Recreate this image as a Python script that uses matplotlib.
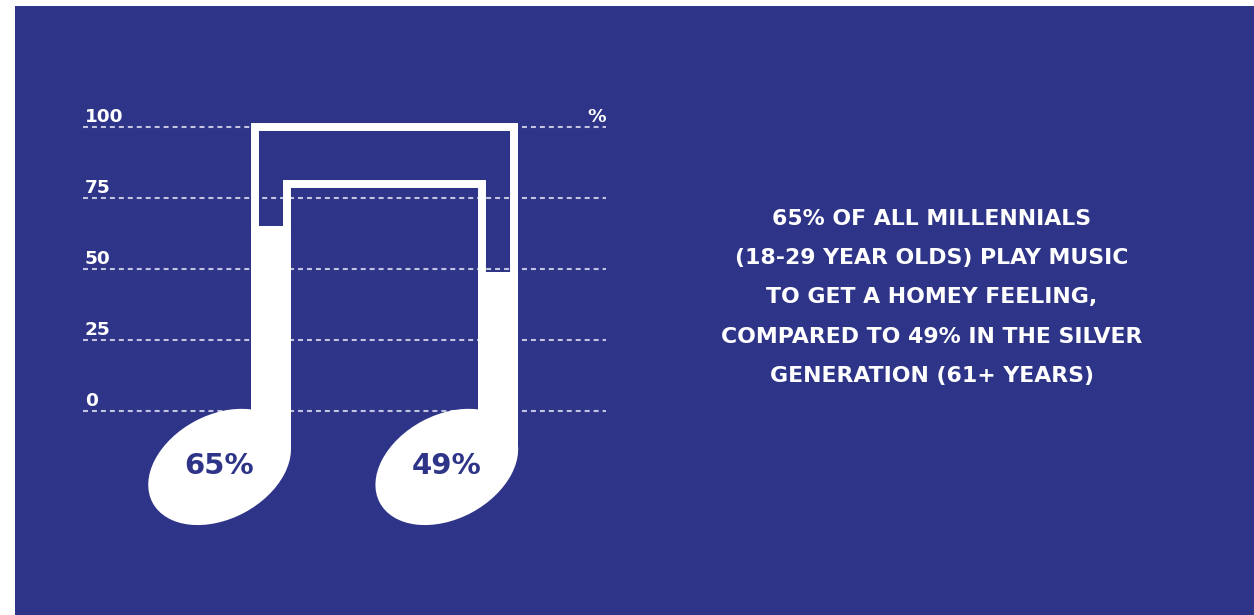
import matplotlib.pyplot as plt
from matplotlib.patches import Ellipse, Rectangle

plt.rcParams["font.family"] = ["DejaVu Sans"]

# data
labels = ["65%", "49%"]
values = [65, 49]
ticks = [0, 25, 50, 75, 100]
beam_levels = [100, 80]  # outer and inner beam heights
caption = [
    "65% OF ALL MILLENNIALS",
    "(18-29 YEAR OLDS) PLAY MUSIC",
    "TO GET A HOMEY FEELING,",
    "COMPARED TO 49% IN THE SILVER",
    "GENERATION (61+ YEARS)",
]

blue = "#2e3487"
grid_col = "#c3c5e0"

W, H = 1254, 615
fig = plt.figure(figsize=(W / 100, H / 100), dpi=100, facecolor="white")
# blue panel (white sliver left and top)
fig.patches.append(Rectangle((15 / W, 0), 1 - 15 / W, (H - 6) / H,
                             transform=fig.transFigure, facecolor=blue,
                             edgecolor="none", zorder=-5))

# axes laid out so that 1 data unit = S pixels on both axes
S = 2.84
xmin, xmax = -66.2, 118.0
ymin, ymax = -45, 105
x0_px, y0_px = 83, 411   # pixel of x=xmin and of y=0
left = x0_px / W
bottom = (H - (y0_px + (0 - ymin) * S)) / H
ax = fig.add_axes([left, bottom, (xmax - xmin) * S / W, (ymax - ymin) * S / H])
ax.set_xlim(xmin, xmax)
ax.set_ylim(ymin, ymax)
ax.axis("off")
ax.patch.set_visible(False)

# dashed gridlines and labels
for t in ticks:
    ax.plot([xmin, xmax], [t, t], color=grid_col, lw=1.5,
            linestyle=(0, (2.4, 1.9)), zorder=1, clip_on=False)
    ax.text(xmin + 0.7, t + 1.75, str(t), color="white", fontsize=13.3,
            fontweight="bold", ha="left", va="baseline")
ax.text(xmax, ticks[-1] + 1.75, "%", color="white", fontsize=13.3,
        fontweight="bold", ha="right", va="baseline")

# notes
xpos = [0, 80]
bw = 14          # stem width
stroke = 2.8     # beam outline thickness in data units
lw_pt = stroke * S * 72 / 100
stem_bottom = -13.5

ax.bar(xpos, [v - stem_bottom for v in values], bottom=stem_bottom, width=bw,
       color="white", zorder=3)

for x, lab in zip(xpos, labels):
    ax.add_patch(Ellipse((x - 18.1, -19.7), 53.5, 36.6, angle=28,
                         facecolor="white", edgecolor="none", zorder=3))
    ax.text(x - 18.3, -19.3, lab, color=blue, fontsize=21,
            fontweight="bold", ha="center", va="center", zorder=4)

# outer beam: left edge of first stem to right edge of second stem
h = stroke / 2
ax.plot([xpos[0] - bw / 2 + h, xpos[0] - bw / 2 + h, xpos[1] + bw / 2 - h, xpos[1] + bw / 2 - h],
        [values[0], beam_levels[0], beam_levels[0], values[1]],
        color="white", lw=lw_pt, solid_joinstyle="miter", solid_capstyle="butt", zorder=3)
# inner beam: right edge of first stem to left edge of second stem
ax.plot([xpos[0] + bw / 2 - h, xpos[0] + bw / 2 - h, xpos[1] - bw / 2 + h, xpos[1] - bw / 2 + h],
        [values[0], beam_levels[1], beam_levels[1], values[1]],
        color="white", lw=lw_pt, solid_joinstyle="miter", solid_capstyle="butt", zorder=3)

# caption on the right
for i, line in enumerate(caption):
    yb = 225 + 39.2 * i
    fig.text(932 / W, 1 - yb / H, line, color="white", fontsize=15.8,
             fontweight="bold", ha="center", va="baseline")

fig.savefig("out.png", dpi=100, facecolor="white")
